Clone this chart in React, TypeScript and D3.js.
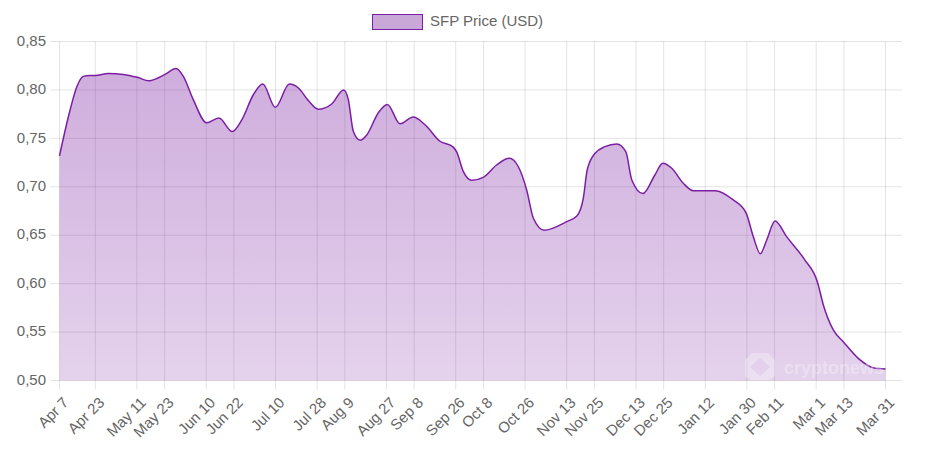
import React, { useEffect, useRef } from 'react';
import * as d3 from 'd3';

// days since Apr 7 for each point
const days = [
  0, 4.7, 7.7, 10.6, 13.6, 16, 21.6, 28.1, 34.2, 39.2, 46.2, 50.9, 54.1, 58.4, 64.2, 69.5, 75.3, 79.4, 84.4, 88.5,
  93.9, 100, 103.9, 108.2, 112.5, 118.3, 123.5, 125.5, 127.7, 130.6, 133.5, 138.5, 142.4, 147.9, 153.6, 158.7,
  165.2, 170.9, 172.4, 175.3, 178.9, 183.9, 189.7, 195.2, 199.1, 202.7, 205.6, 210.3, 220, 224.4, 227.2, 228.9,
  232.3, 236.6, 241.7, 245.6, 248.2, 253, 258.2, 261.6, 265.5, 270.5, 274.8, 284.2, 292.1, 297.6, 300.8,
  303.8, 306.6, 310.2, 315.2, 322.9, 328.5, 331.1, 335.4, 339.7, 346.2, 352.7, 358,
];
const prices = [
  0.732, 0.779, 0.803, 0.814, 0.815, 0.815, 0.817, 0.816, 0.813, 0.8095, 0.816, 0.822, 0.814, 0.79, 0.766, 0.771,
  0.757, 0.769, 0.795, 0.806, 0.782, 0.806, 0.802, 0.789, 0.78, 0.7855, 0.8, 0.79, 0.757, 0.748, 0.7535, 0.7765,
  0.785, 0.765, 0.772, 0.764, 0.747, 0.741, 0.736, 0.7156, 0.7067, 0.7098, 0.7225, 0.7294, 0.7207, 0.6967, 0.6675,
  0.6551, 0.664, 0.6698, 0.6881, 0.7173, 0.7346, 0.7414, 0.7442, 0.7362, 0.707, 0.693, 0.7122, 0.7243,
  0.7191, 0.7036, 0.696, 0.696, 0.6864, 0.6733, 0.6485, 0.6309, 0.6451, 0.6647, 0.6485, 0.6251, 0.602, 0.578,
  0.5522, 0.5401, 0.5229, 0.5132, 0.5119,
];

const tickDays = [0, 16, 34, 46, 64, 76, 94, 112, 124, 142, 154, 172, 184, 202, 220, 232, 250, 262, 280, 298, 310, 328, 340, 358];
const tickLabels = [
  'Apr 7', 'Apr 23', 'May 11', 'May 23', 'Jun 10', 'Jun 22', 'Jul 10', 'Jul 28', 'Aug 9', 'Aug 27', 'Sep 8', 'Sep 26',
  'Oct 8', 'Oct 26', 'Nov 13', 'Nov 25', 'Dec 13', 'Dec 25', 'Jan 12', 'Jan 30', 'Feb 11', 'Mar 1', 'Mar 13', 'Mar 31',
];
const priceTicks = [0.5, 0.55, 0.6, 0.65, 0.7, 0.75, 0.8, 0.85];

const seriesName = 'SFP Price (USD)';
const lineColor = '#7b1fa2';
const textColor = '#666';
const gridColor = 'rgba(0,0,0,0.11)';
const fontFamily = '"Liberation Sans", Arial, sans-serif';

const App = () => {
  const chartRef = useRef(null);

  useEffect(() => {
    const svg = d3.select(chartRef.current);
    svg.selectAll('*').remove();

    const left = 59.5;
    const right = 902;
    const top = 41.5;
    const bottom = 380.5;

    // first tick gap is a bit wider than the rest, so the scale has a knee at Apr 23
    const x = d3.scaleLinear().domain([0, 16, 358]).range([left, 95.3, 885.5]);
    const y = d3.scaleLinear().domain([0.5, 0.85]).range([bottom, top]);

    const grad = svg.append('defs').append('linearGradient')
      .attr('id', 'fill')
      .attr('gradientUnits', 'userSpaceOnUse')
      .attr('x1', 0).attr('x2', 0)
      .attr('y1', top).attr('y2', bottom);
    grad.append('stop').attr('offset', 0).attr('stop-color', lineColor).attr('stop-opacity', 0.38);
    grad.append('stop').attr('offset', 1).attr('stop-color', lineColor).attr('stop-opacity', 0.2);

    const grid = svg.append('g').attr('stroke', gridColor).attr('fill', 'none');
    grid.selectAll('line.h').data(priceTicks).enter().append('line')
      .attr('class', 'h')
      .attr('x1', left - 9).attr('x2', right)
      .attr('y1', d => y(d)).attr('y2', d => y(d));
    grid.selectAll('line.v').data(tickDays).enter().append('line')
      .attr('class', 'v')
      .attr('x1', d => x(d)).attr('x2', d => x(d))
      .attr('y1', top).attr('y2', bottom + 9);

    const points = days.map((d, i) => [d, prices[i]]);
    const area = d3.area()
      .x(d => x(d[0]))
      .y0(bottom)
      .y1(d => y(d[1]))
      .curve(d3.curveMonotoneX);
    const line = d3.line()
      .x(d => x(d[0]))
      .y(d => y(d[1]))
      .curve(d3.curveMonotoneX);

    svg.append('path').attr('d', area(points)).attr('fill', 'url(#fill)');
    svg.append('path').attr('d', line(points))
      .attr('fill', 'none').attr('stroke', lineColor).attr('stroke-width', 1.5);

    svg.append('g').attr('font-family', fontFamily).attr('font-size', 15).attr('fill', textColor)
      .selectAll('text').data(priceTicks).enter().append('text')
      .attr('x', 46).attr('y', d => y(d) - 1).attr('dy', '0.35em').attr('text-anchor', 'end')
      .text(d => d.toFixed(2).replace('.', ','));

    svg.append('g').attr('font-family', fontFamily).attr('font-size', 15).attr('fill', textColor)
      .selectAll('text').data(tickDays).enter().append('text')
      .attr('transform', d => `translate(${x(d) + 10},${bottom + 23}) rotate(-45)`)
      .attr('text-anchor', 'end')
      .text((d, i) => tickLabels[i]);

    // legend
    svg.append('rect')
      .attr('x', 372.5).attr('y', 14.5).attr('width', 50).attr('height', 15)
      .attr('fill', '#c9a8d8').attr('stroke', lineColor).attr('stroke-width', 1);
    svg.append('text')
      .attr('x', 430).attr('y', 26)
      .attr('font-family', fontFamily).attr('font-size', 15).attr('fill', textColor)
      .text(seriesName);

    // watermark
    const mark = svg.append('g').attr('fill', '#fff').attr('opacity', 0.3);
    mark.append('path')
      .attr('fill-rule', 'evenodd')
      .attr('d', 'M752 353H768L775 360V376L770 380H750L745 376V360ZM760 358L750 367L760 376L770 367Z');
    mark.append('text')
      .attr('x', 784).attr('y', 374)
      .attr('font-family', fontFamily).attr('font-size', 18).attr('font-weight', 700)
      .text('cryptonews');
  }, []);

  return <svg ref={chartRef} width="925" height="457" style={{ position: 'absolute', left: 0, top: 0 }}></svg>;
};

export default App;
